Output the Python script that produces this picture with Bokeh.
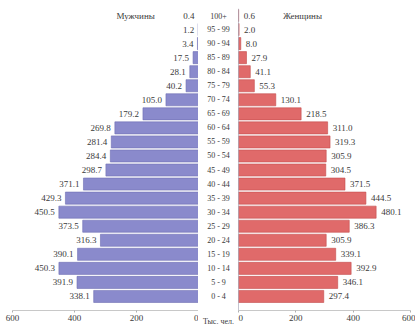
from bokeh.plotting import figure
from bokeh.layouts import row
from bokeh.models import Range1d, Span, Label, FixedTicker, ColumnDataSource
from bokeh.core.properties import value
from bokeh.embed import file_html
from bokeh.resources import INLINE

ages = ["0 - 4", "5 - 9", "10 - 14", "15 - 19", "20 - 24", "25 - 29", "30 - 34",
        "35 - 39", "40 - 44", "45 - 49", "50 - 54", "55 - 59", "60 - 64", "65 - 69",
        "70 - 74", "75 - 79", "80 - 84", "85 - 89", "90 - 94", "95 - 99", "100+"]
male = [338.1, 391.9, 450.3, 390.1, 316.3, 373.5, 450.5, 429.3, 371.1, 298.7,
        284.4, 281.4, 269.8, 179.2, 105.0, 40.2, 28.1, 17.5, 3.4, 1.2, 0.4]
female = [297.4, 346.1, 392.9, 339.1, 305.9, 386.3, 480.1, 444.5, 371.5, 304.5,
          305.9, 319.3, 311.0, 218.5, 130.1, 55.3, 41.1, 27.9, 8.0, 2.0, 0.6]
ticks = [0, 200, 400, 600]

FONT = "Liberation Serif"
TXT = "#3a3a3a"
H = 328
MT = 8
MB = 18
ypos = list(range(len(ages)))

src = ColumnDataSource(dict(
    y=ypos, age=ages, male=male, female=female,
    mlab=[f"{v:.1f}" for v in male], flab=[f"{v:.1f}" for v in female],
))

def base(width, xr, bl=0, br=0):
    p = figure(width=width, height=H, x_range=xr, y_range=Range1d(-1.0, 20.5),
               output_backend="svg", toolbar_location=None,
               min_border_left=bl, min_border_right=br, min_border_top=MT,
               min_border_bottom=MB)
    p.outline_line_color = None
    p.grid.visible = False
    p.yaxis.visible = False
    p.background_fill_color = "white"
    return p

def style_x(p):
    ax = p.xaxis[0]
    ax.ticker = FixedTicker(ticks=ticks)
    ax.axis_line_color = "#c8c8c8"
    ax.major_tick_line_color = "#b0b0b0"
    ax.major_tick_out = 2
    ax.major_tick_in = 0
    ax.minor_tick_line_color = None
    ax.major_label_text_font = FONT
    ax.major_label_text_font_size = "9px"
    ax.major_label_text_color = TXT
    ax.major_label_standoff = 2

# Left (male)
pl = base(198, Range1d(600, 0), bl=12)
pl.hbar(y="y", left=0, right="male", height=0.86, source=src,
        fill_color="#8a8acc", line_color="#6e6eb4", line_width=0.6)
pl.text(x="male", y="y", text="mlab", source=src, text_align="right",
        text_baseline="middle", x_offset=-4, text_font=value(FONT),
        text_font_size="9px", text_color=TXT)
pl.add_layout(Span(location=0, dimension="height", line_color="#8a8aa0", line_width=1))
style_x(pl)
pl.add_layout(Label(x=203, y=20, text="Мужчины", text_align="center",
                    text_baseline="middle", text_font=FONT,
                    text_font_size="9px", text_color=TXT))

# Middle (age labels)
pm = base(40, Range1d(0, 1))
mx = pm.xaxis[0]
mx.ticker = FixedTicker(ticks=[])
mx.axis_line_color = None
mx.major_tick_line_color = None
mx.minor_tick_line_color = None
mx.major_label_text_font_size = "0px"
mx.axis_label = "Тыс. чел."
mx.axis_label_text_font = FONT
mx.axis_label_text_font_size = "8px"
mx.axis_label_text_font_style = "normal"
mx.axis_label_text_color = TXT
mx.axis_label_standoff = 6
pm.text(x=0.5, y="y", text="age", source=src, text_align="center",
        text_baseline="middle", text_font=value(FONT), text_font_size="8px",
        text_color=TXT)

# Right (female)
pr = base(177, Range1d(0, 600), br=5)
pr.hbar(y="y", left=0, right="female", height=0.86, source=src,
        fill_color="#e06a6a", line_color="#c44e4e", line_width=0.6)
pr.text(x="female", y="y", text="flab", source=src, text_align="left",
        text_baseline="middle", x_offset=5, text_font=value(FONT),
        text_font_size="9px", text_color=TXT)
pr.add_layout(Span(location=0, dimension="height", line_color="#8a8aa0", line_width=1))
style_x(pr)
pr.add_layout(Label(x=223, y=20, text="Женщины", text_align="center",
                    text_baseline="middle", text_font=FONT,
                    text_font_size="9px", text_color=TXT))

layout = row(pl, pm, pr)
open("out.html", "w").write(file_html(layout, INLINE))
